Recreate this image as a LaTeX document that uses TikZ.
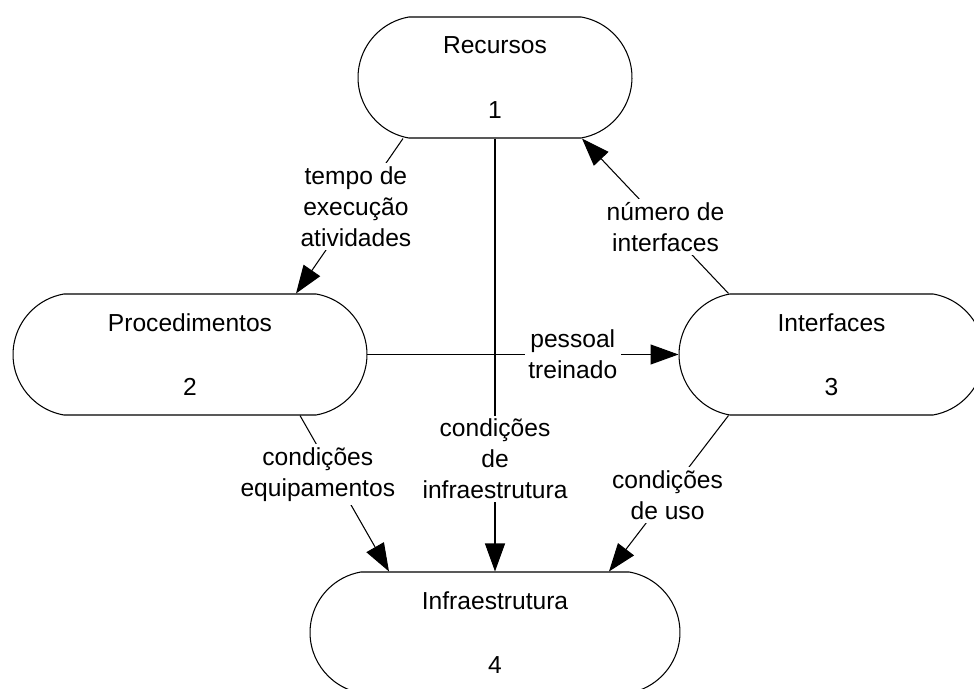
\documentclass[tikz,border=0pt]{standalone}
\usepackage{fontspec}
\setmainfont{Liberation Sans}
\usetikzlibrary{calc,arrows.meta,shapes.misc}

\begin{document}
\begin{tikzpicture}[x=0.02cm, y=0.02cm,
  font=\fontsize{14}{17.5}\selectfont,
  proc/.style={draw, line width=0.6pt, rounded rectangle,
    rounded rectangle arc length=160, inner sep=0pt,
    minimum height=2.42cm, align=center},
  link/.style={line width=0.6pt},
  flow/.style={link, -{Triangle[length=0.56cm, width=0.4cm]}},
  lbl/.style={fill=white, inner sep=2pt, align=center}]
  \useasboundingbox (0,0) rectangle (974,689);
  \clip (0,0) rectangle (974,689);
  % Processes
  \node[proc, minimum width=5.48cm] (rec) at (495,611.5) {Recursos\\[19pt]1};
  \node[proc, minimum width=7.08cm] (proc) at (190,334.5) {Procedimentos\\[19pt]2};
  \node[proc, minimum width=6.10cm] (intf) at (831.5,334.5) {Interfaces\\[19pt]3};
  \node[proc, minimum width=7.40cm] (infra) at (495,56.5) {Infraestrutura\\[19pt]4};
  % Recursos -> Infraestrutura
  \draw[flow] (rec.south) -- node[lbl, pos=0.74] (lblinfra)
    {condições\\de\\infraestrutura} (infra.north);
  % Procedimentos -> Interfaces
  \draw[flow] (proc.east) -- node[lbl, pos=0.66] (lblpess)
    {pessoal\\treinado} (intf.west);
  % Recursos -> Procedimentos
  \draw[flow] ($(rec.south)+(-92,0)$) -- node[lbl, pos=0.44] (lbltempo)
    {tempo de\\execução\\atividades} ($(proc.north)+(106,0)$);
  % Interfaces -> Recursos
  \draw[flow] ($(intf.north)+(-103,0)$) -- node[lbl, pos=0.43] (lblnum)
    {número de\\interfaces} ($(rec.south)+(87,0)$);
  % Procedimentos -> Infraestrutura
  \draw[flow] ($(proc.south)+(110,0)$) -- node[lbl, pos=0.38, xshift=-0.32cm] (lblequip)
    {condições\\equipamentos} ($(infra.north)+(-106,0)$);
  % Interfaces -> Infraestrutura
  \draw[flow] ($(intf.south)+(-103,0)$) -- node[lbl, pos=0.51] (lbluso)
    {condições\\de uso} ($(infra.north)+(114,0)$);
\end{tikzpicture}
\end{document}
